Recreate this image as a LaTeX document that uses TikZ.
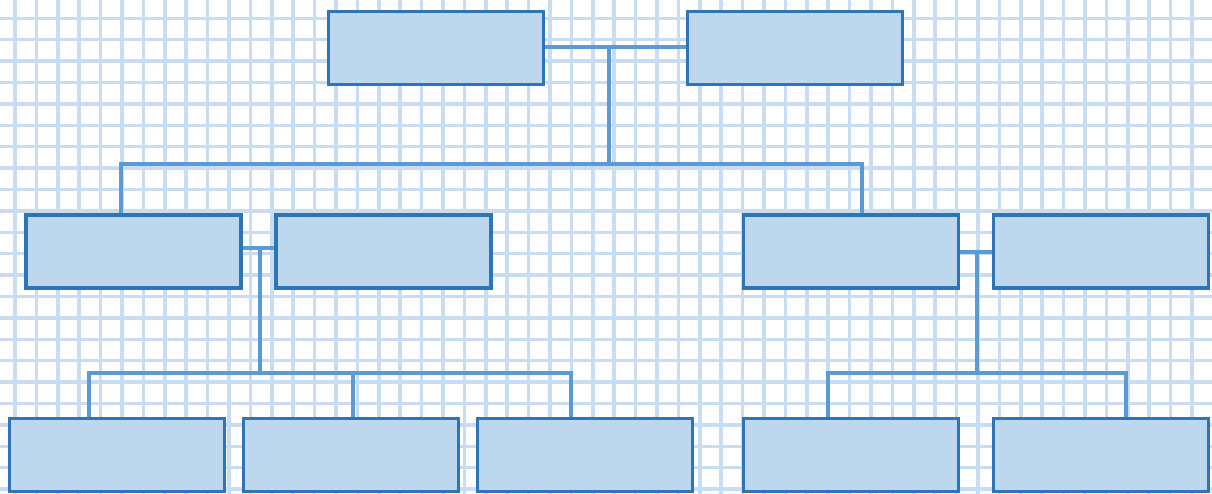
\documentclass[tikz,border=0pt]{standalone}
\definecolor{gridblue}{RGB}{200,221,241}
\definecolor{boxfill}{RGB}{189,215,238}
\definecolor{boxline}{RGB}{46,117,182}
\definecolor{linkblue}{RGB}{91,155,213}
\begin{document}
\begin{tikzpicture}[
    box/.style={draw=boxline, fill=boxfill, line width=2.1pt,
        minimum width=4.30cm, minimum height=1.46cm, inner sep=0pt},
    link/.style={draw=linkblue, line width=1.8pt}
]
    \useasboundingbox (0,0) rectangle (24.24,-9.88);

    % Grid paper
    \begin{scope}
        \clip (0,0) rectangle (24.24,-9.88);
        \foreach \i in {0,...,56}
            \draw[gridblue, line width=2pt] ({0.30+0.428*\i},0.1) -- ({0.30+0.428*\i},-10);
        \foreach \j in {0,...,23}
            \draw[gridblue, line width=2pt] (-0.1,{-0.366-0.428*\j}) -- (24.4,{-0.366-0.428*\j});
    \end{scope}

    % Top row
    \node[box] (a) at (8.72,-0.96) {};
    \node[box] (b) at (15.90,-0.96) {};

    % Middle row
    \node[box] (c) at (2.67,-5.03) {};
    \node[box] (d) at (7.67,-5.03) {};
    \node[box] (e) at (17.02,-5.03) {};
    \node[box] (f) at (22.02,-5.03) {};

    % Bottom row
    \node[box] (g) at (2.34,-9.10) {};
    \node[box] (h) at (7.02,-9.10) {};
    \node[box] (i) at (11.70,-9.10) {};
    \node[box] (j) at (17.02,-9.10) {};
    \node[box] (k) at (22.02,-9.10) {};

    % Junctions
    \coordinate (tj) at (12.18,-0.94);
    \coordinate (tbus) at (12.18,-3.28);
    \coordinate (lj) at (5.20,-4.96);
    \coordinate (lbus) at (5.20,-7.46);
    \coordinate (rj) at (19.54,-5.04);
    \coordinate (rbus) at (19.54,-7.46);

    % Top connectors
    \draw[link] (a.east |- tj) -- (b.west |- tj);
    \draw[link] (tj) -- (tbus);
    \draw[link] ([xshift=-0.25cm]c.north) |- (tbus) -| ([xshift=0.22cm]e.north);

    % Left branch
    \draw[link] (c.east |- lj) -- (d.west |- lj);
    \draw[link] (lj) -- (lbus);
    \draw[link] ([xshift=-0.56cm]g.north) |- (lbus) -| ([xshift=-0.28cm]i.north);
    \draw[link] ([xshift=0.04cm]h.north |- lbus) -- ([xshift=0.04cm]h.north);

    % Right branch
    \draw[link] (e.east |- rj) -- (f.west |- rj);
    \draw[link] (rj) -- (rbus);
    \draw[link] ([xshift=-0.46cm]j.north) |- (rbus) -| ([xshift=0.50cm]k.north);
\end{tikzpicture}
\end{document}
